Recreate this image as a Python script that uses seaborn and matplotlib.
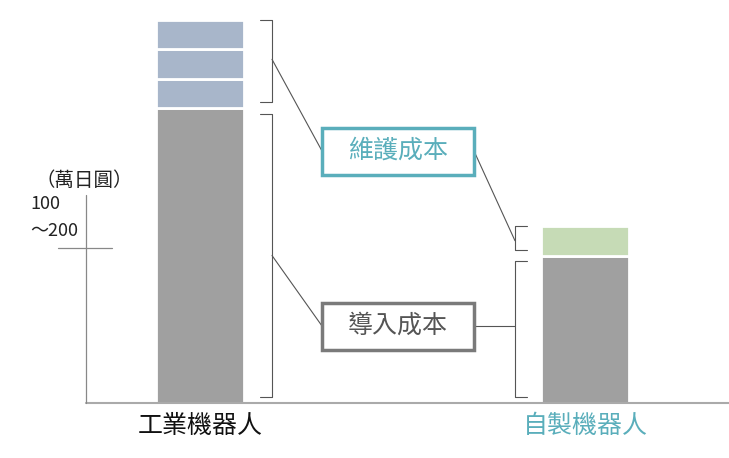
import matplotlib
matplotlib.use("Agg")
import matplotlib.pyplot as plt
import pandas as pd
import seaborn as sns
from matplotlib.patches import Rectangle

# ---- data ----
robots = ["工業機器人", "自製機器人"]
intro_cost = [10, 5]          # 導入成本 (units)
maint_cost = [[1, 1, 1], [1]]  # 維護成本 segments per robot
tick_value = 5.25
tick_label = "100\n～200"
unit_label = "（萬日圓）"

GRAY = "#a0a0a0"
MAINT_COLORS = ["#a8b6ca", "#c6dbb6"]
TEAL = "#5aaebb"
BOX_GRAY = "#7a7a7a"
LINE = "#555555"

sns.set_theme(style="white")
plt.rcParams["font.family"] = ["Noto Sans CJK TC", "DejaVu Sans"]

rows = []
for i, r in enumerate(robots):
    rows.append(dict(robot=r, kind="intro", value=intro_cost[i], bottom=0, color=GRAY))
    b = intro_cost[i]
    for v in maint_cost[i]:
        rows.append(dict(robot=r, kind="maint", value=v, bottom=b, color=MAINT_COLORS[i]))
        b += v
df = pd.DataFrame(rows)

fig = plt.figure(figsize=(7.29, 4.58), dpi=100)
ax = fig.add_axes([0, 0, 1, 1])

# px -> data helpers (x: 385 px per category, y: 29.5 px per unit, baseline at 403 px)
PX = 385
PY = 29.5
BAR_W = 88 / PX
for _, row in df.iterrows():
    sns.barplot(data=pd.DataFrame([row]), x="robot", y="value", order=robots,
                bottom=row["bottom"], color=row["color"], width=BAR_W,
                edgecolor="white", linewidth=2, saturation=1, ax=ax, zorder=2)

ax.set_xlim(-200 / PX, 529 / PX)
ax.set_ylim(-55 / PY, 403 / PY)
ax.axis("off")

# axes lines
ax.plot([-114 / PX, 529 / PX], [0, 0], color="#aaaaaa", lw=1.5, zorder=5, clip_on=False)
ax.plot([-114 / PX, -114 / PX], [0, 208 / PY], color="#888888", lw=0.9, zorder=5)
ax.plot([-142 / PX, -88 / PX], [tick_value, tick_value], color="#888888", lw=0.9, zorder=5)
for k, line in enumerate(tick_label.split("\n")):
    ax.text(-170 / PX, (403 - 204 - 27 * k) / PY, line, ha="left", va="center",
            fontsize=13, color="#222222")
ax.text(-116 / PX, (403 - 180) / PY, unit_label, ha="center", va="center",
        fontsize=14, color="#222222")

# category labels
ax.text(0, -23 / PY, robots[0], ha="center", va="center", fontsize=18, color="#111111")
ax.text(1, -23 / PY, robots[1], ha="center", va="center", fontsize=18, color=TEAL)

# brackets
def bracket(x, y0, y1, side):
    s = 12 / PX * side
    ax.plot([x - s, x, x, x - s], [y1, y1, y0, y0], color=LINE, lw=0.8, zorder=3)

gap = 0.2
lx = 72 / PX
rx = 1 - 70 / PX
tot0 = intro_cost[0] + sum(maint_cost[0])
tot1 = intro_cost[1] + sum(maint_cost[1])
bracket(lx, gap, intro_cost[0] - gap, 1)
bracket(lx, intro_cost[0] + gap, tot0, 1)
bracket(rx, gap, intro_cost[1] - gap, -1)
bracket(rx, intro_cost[1] + gap, tot1, -1)

# label boxes
bx0, bx1 = 122 / PX, 274 / PX
def label_box(yc, text, edge, tcolor):
    h = 47 / PY
    ax.add_patch(Rectangle((bx0, yc - h / 2), bx1 - bx0, h, fill=False,
                           edgecolor=edge, lw=2.5, zorder=4))
    ax.text((bx0 + bx1) / 2, yc, text, ha="center", va="center", fontsize=18, color=tcolor)

y_maint = (403 - 151) / PY
y_intro = (403 - 326) / PY
label_box(y_maint, "維護成本", TEAL, TEAL)
label_box(y_intro, "導入成本", BOX_GRAY, "#555555")

ax.plot([lx, bx0], [(intro_cost[0] + tot0) / 2 + 0.15, y_maint], color=LINE, lw=0.8)
ax.plot([bx1, rx], [y_maint, (intro_cost[1] + tot1) / 2], color=LINE, lw=0.8)
ax.plot([lx, bx0], [intro_cost[0] / 2, y_intro], color=LINE, lw=0.8)
ax.plot([bx1, rx], [y_intro, y_intro], color=LINE, lw=0.8)

fig.savefig("out.png", dpi=100)
